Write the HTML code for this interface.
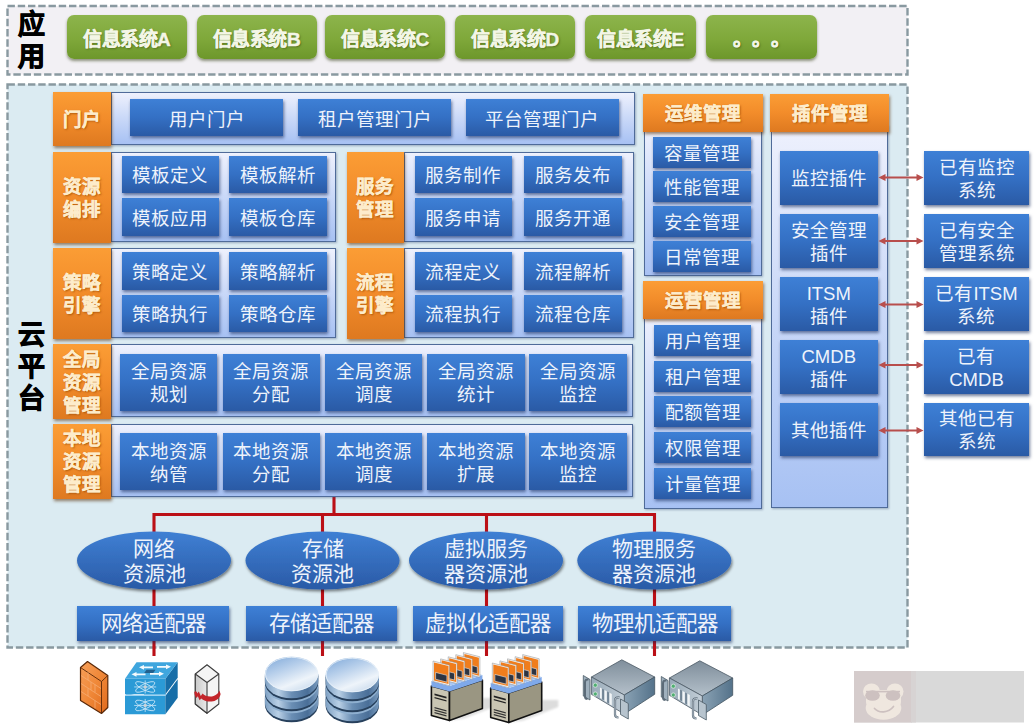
<!DOCTYPE html>
<html lang="zh-CN"><head><meta charset="utf-8"><title>云平台架构</title>
<style>
html,body{margin:0;padding:0;background:#fff;}
body{width:1034px;height:728px;position:relative;overflow:hidden;font-family:"Liberation Sans",sans-serif;}
.b{position:absolute;display:flex;align-items:center;justify-content:center;text-align:center;box-sizing:border-box;}
.b span{display:block;white-space:nowrap;}
svg.bg{position:absolute;left:0;top:0;}
.g{border-radius:7px;background:linear-gradient(#8db44c 0%,#7fa83a 55%,#6d972b 100%);box-shadow:0 2px 3px rgba(60,70,30,.55);color:#f3f6e6;font-weight:bold;font-size:19px;text-shadow:1px 1px 2px rgba(60,80,20,.7);letter-spacing:-0.5px;-webkit-text-stroke:.45px #f3f6e6;}
.o{background:linear-gradient(#fb9d35 0%,#f28c2a 50%,#de7920 100%);box-shadow:1px 2px 3px rgba(90,50,10,.6);color:#fdeccb;font-weight:bold;font-size:18.5px;line-height:23px;text-shadow:1px 1px 2px rgba(150,70,0,.8);-webkit-text-stroke:.3px #fdeccb;padding-top:1px;}
.c{background:linear-gradient(#eef1fd 0%,#c9d8f8 50%,#a7c1f3 100%);border:1px solid #4f6b99;box-shadow:1px 1px 2px rgba(60,80,120,.4);}
.u{background:linear-gradient(#3e80d6 0%,#3470c4 50%,#2a5aa5 100%);box-shadow:1px 2px 3px rgba(20,40,90,.6);color:#eef3fb;font-size:18.5px;line-height:23px;padding-top:2px;}
.g i{display:inline-block;width:19px;font-style:normal;text-align:left;}
.t{color:#000;font-weight:bold;font-size:27px;line-height:32px;-webkit-text-stroke:.9px #000;}
.e{color:#eef3fb;font-size:21px;line-height:25px;}
.a{font-size:21.4px;}
</style></head><body>
<svg class="bg" width="1034" height="728" viewBox="0 0 1034 728"><defs><linearGradient id="eg" x1="0" y1="0" x2="0" y2="1"><stop offset="0" stop-color="#3f80d4"/><stop offset="1" stop-color="#2a5aa6"/></linearGradient><filter id="sh" x="-10%" y="-10%" width="120%" height="130%"><feGaussianBlur in="SourceAlpha" stdDeviation="1.5"/><feOffset dx="1" dy="2"/><feComponentTransfer><feFuncA type="linear" slope=".5"/></feComponentTransfer><feMerge><feMergeNode/><feMergeNode in="SourceGraphic"/></feMerge></filter></defs><rect x="7.5" y="6" width="900" height="68.5" fill="#f2f0f4" stroke="#8999a0" stroke-width="2.4" stroke-dasharray="7.4 2.85"/><rect x="7.5" y="84.5" width="900" height="563" fill="#dbebf2" stroke="#8999a0" stroke-width="2.4" stroke-dasharray="7.4 2.85"/><g stroke="#bb0f16" stroke-width="3.1" fill="none"><path d="M334 497V514.5"/><path d="M154 656V514.5H654.5V656"/><path d="M322.5 514.5V656"/><path d="M486.5 514.5V656"/></g><ellipse cx="154" cy="560.5" rx="77" ry="29" fill="url(#eg)" filter="url(#sh)"/><ellipse cx="322.5" cy="560.5" rx="77" ry="29" fill="url(#eg)" filter="url(#sh)"/><ellipse cx="486" cy="560.5" rx="77" ry="29" fill="url(#eg)" filter="url(#sh)"/><ellipse cx="654.3" cy="560.5" rx="77" ry="29" fill="url(#eg)" filter="url(#sh)"/></svg>
<div class="b t" style="left:14px;top:8px;width:34px;height:66px;"><span>应<br>用</span></div>
<div class="b t" style="left:14px;top:319px;width:34px;height:96px;"><span>云<br>平<br>台</span></div>
<div class="b g" style="left:66.7px;top:15px;width:120px;height:44px;"><span>信息系统A</span></div>
<div class="b g" style="left:196.5px;top:15px;width:120px;height:44px;"><span>信息系统B</span></div>
<div class="b g" style="left:325px;top:15px;width:120px;height:44px;"><span>信息系统C</span></div>
<div class="b g" style="left:455px;top:15px;width:120px;height:44px;"><span>信息系统D</span></div>
<div class="b g" style="left:585px;top:15px;width:111px;height:44px;"><span>信息系统E</span></div>
<div class="b g" style="left:705.5px;top:15px;width:111px;height:44px;"><span><i>。</i><i>。</i><i>。</i></span></div>
<div class="b c" style="left:111px;top:92px;width:524.3px;height:52.5px;"><span></span></div>
<div class="b o" style="left:53px;top:92px;width:58px;height:54px;"><span>门户</span></div>
<div class="b u" style="left:130px;top:99px;width:153px;height:37px;padding-top:3px;"><span>用户门户</span></div>
<div class="b u" style="left:298.3px;top:99px;width:153px;height:37px;padding-top:3px;"><span>租户管理门户</span></div>
<div class="b u" style="left:465.7px;top:99px;width:153.3px;height:37px;padding-top:3px;"><span>平台管理门户</span></div>
<div class="b c" style="left:111px;top:151.7px;width:225px;height:90px;"><span></span></div>
<div class="b o" style="left:53px;top:151.7px;width:58px;height:91px;"><span>资源<br>编排</span></div>
<div class="b u" style="left:121.7px;top:155.7px;width:97.5px;height:37.6px;padding-top:3px;"><span>模板定义</span></div>
<div class="b u" style="left:229px;top:155.7px;width:97.5px;height:37.6px;padding-top:3px;"><span>模板解析</span></div>
<div class="b u" style="left:121.7px;top:198.4px;width:97.5px;height:37.6px;padding-top:3px;"><span>模板应用</span></div>
<div class="b u" style="left:229px;top:198.4px;width:97.5px;height:37.6px;padding-top:3px;"><span>模板仓库</span></div>
<div class="b c" style="left:404px;top:151.7px;width:229.5px;height:90px;"><span></span></div>
<div class="b o" style="left:346.7px;top:151.7px;width:57.6px;height:91px;"><span>服务<br>管理</span></div>
<div class="b u" style="left:414.5px;top:155.7px;width:97.7px;height:37.6px;padding-top:3px;"><span>服务制作</span></div>
<div class="b u" style="left:524px;top:155.7px;width:97.7px;height:37.6px;padding-top:3px;"><span>服务发布</span></div>
<div class="b u" style="left:414.5px;top:198.4px;width:97.7px;height:37.6px;padding-top:3px;"><span>服务申请</span></div>
<div class="b u" style="left:524px;top:198.4px;width:97.7px;height:37.6px;padding-top:3px;"><span>服务开通</span></div>
<div class="b c" style="left:111px;top:248px;width:225px;height:90px;"><span></span></div>
<div class="b o" style="left:53px;top:248px;width:58px;height:91px;"><span>策略<br>引擎</span></div>
<div class="b u" style="left:121.7px;top:252px;width:97.5px;height:37.6px;padding-top:3px;"><span>策略定义</span></div>
<div class="b u" style="left:229px;top:252px;width:97.5px;height:37.6px;padding-top:3px;"><span>策略解析</span></div>
<div class="b u" style="left:121.7px;top:294.7px;width:97.5px;height:37.6px;padding-top:3px;"><span>策略执行</span></div>
<div class="b u" style="left:229px;top:294.7px;width:97.5px;height:37.6px;padding-top:3px;"><span>策略仓库</span></div>
<div class="b c" style="left:404px;top:248px;width:229.5px;height:90px;"><span></span></div>
<div class="b o" style="left:346.7px;top:248px;width:57.6px;height:91px;"><span>流程<br>引擎</span></div>
<div class="b u" style="left:414.5px;top:252px;width:97.7px;height:37.6px;padding-top:3px;"><span>流程定义</span></div>
<div class="b u" style="left:524px;top:252px;width:97.7px;height:37.6px;padding-top:3px;"><span>流程解析</span></div>
<div class="b u" style="left:414.5px;top:294.7px;width:97.7px;height:37.6px;padding-top:3px;"><span>流程执行</span></div>
<div class="b u" style="left:524px;top:294.7px;width:97.7px;height:37.6px;padding-top:3px;"><span>流程仓库</span></div>
<div class="b c" style="left:111px;top:344px;width:521.5px;height:73px;"><span></span></div>
<div class="b o" style="left:53px;top:344px;width:58px;height:75px;"><span>全局<br>资源<br>管理</span></div>
<div class="b u" style="left:120px;top:353.7px;width:97.3px;height:57px;"><span>全局资源<br>规划</span></div>
<div class="b u" style="left:222.5px;top:353.7px;width:97.3px;height:57px;"><span>全局资源<br>分配</span></div>
<div class="b u" style="left:325px;top:353.7px;width:97.3px;height:57px;"><span>全局资源<br>调度</span></div>
<div class="b u" style="left:427.3px;top:353.7px;width:97.3px;height:57px;"><span>全局资源<br>统计</span></div>
<div class="b u" style="left:529.3px;top:353.7px;width:97.3px;height:57px;"><span>全局资源<br>监控</span></div>
<div class="b c" style="left:111px;top:423.5px;width:521.5px;height:73px;"><span></span></div>
<div class="b o" style="left:53px;top:423.5px;width:58px;height:75px;"><span>本地<br>资源<br>管理</span></div>
<div class="b u" style="left:120px;top:433.2px;width:97.3px;height:57px;"><span>本地资源<br>纳管</span></div>
<div class="b u" style="left:222.5px;top:433.2px;width:97.3px;height:57px;"><span>本地资源<br>分配</span></div>
<div class="b u" style="left:325px;top:433.2px;width:97.3px;height:57px;"><span>本地资源<br>调度</span></div>
<div class="b u" style="left:427.3px;top:433.2px;width:97.3px;height:57px;"><span>本地资源<br>扩展</span></div>
<div class="b u" style="left:529.3px;top:433.2px;width:97.3px;height:57px;"><span>本地资源<br>监控</span></div>
<div class="b c" style="left:644px;top:125px;width:118px;height:150.5px;"><span></span></div>
<div class="b o" style="left:642.7px;top:94px;width:120px;height:38px;"><span>运维管理</span></div>
<div class="b u" style="left:653.3px;top:136.5px;width:97.3px;height:31px;"><span>容量管理</span></div>
<div class="b u" style="left:653.3px;top:171.4px;width:97.3px;height:31px;"><span>性能管理</span></div>
<div class="b u" style="left:653.3px;top:206.3px;width:97.3px;height:31px;"><span>安全管理</span></div>
<div class="b u" style="left:653.3px;top:241.2px;width:97.3px;height:31px;"><span>日常管理</span></div>
<div class="b c" style="left:644px;top:312px;width:118px;height:196.5px;"><span></span></div>
<div class="b o" style="left:642.7px;top:281.3px;width:120px;height:38px;"><span>运营管理</span></div>
<div class="b u" style="left:654px;top:325px;width:97.3px;height:31px;"><span>用户管理</span></div>
<div class="b u" style="left:654px;top:360.7px;width:97.3px;height:31px;"><span>租户管理</span></div>
<div class="b u" style="left:654px;top:396.4px;width:97.3px;height:31px;"><span>配额管理</span></div>
<div class="b u" style="left:654px;top:432.1px;width:97.3px;height:31px;"><span>权限管理</span></div>
<div class="b u" style="left:654px;top:467.8px;width:97.3px;height:31px;"><span>计量管理</span></div>
<div class="b c" style="left:770.7px;top:125px;width:117.5px;height:383px;"><span></span></div>
<div class="b o" style="left:770px;top:94px;width:119px;height:37.5px;"><span>插件管理</span></div>
<div class="b u" style="left:780px;top:151px;width:97.5px;height:53.5px;"><span>监控插件</span></div>
<div class="b u" style="left:924px;top:151px;width:105px;height:53.5px;"><span>已有监控<br>系统</span></div>
<div class="b u" style="left:780px;top:214.3px;width:97.5px;height:53.5px;"><span>安全管理<br>插件</span></div>
<div class="b u" style="left:924px;top:214.3px;width:105px;height:53.5px;"><span>已有安全<br>管理系统</span></div>
<div class="b u" style="left:780px;top:277.3px;width:97.5px;height:53.5px;"><span>ITSM<br>插件</span></div>
<div class="b u" style="left:924px;top:277.3px;width:105px;height:53.5px;"><span>已有ITSM<br>系统</span></div>
<div class="b u" style="left:780px;top:340.3px;width:97.5px;height:53.5px;"><span>CMDB<br>插件</span></div>
<div class="b u" style="left:924px;top:340.3px;width:105px;height:53.5px;"><span>已有<br>CMDB</span></div>
<div class="b u" style="left:780px;top:402.5px;width:97.5px;height:53.5px;"><span>其他插件</span></div>
<div class="b u" style="left:924px;top:402.5px;width:105px;height:53.5px;"><span>其他已有<br>系统</span></div>
<div class="b e" style="left:77px;top:531.5px;width:154px;height:58px;"><span>网络<br>资源池</span></div>
<div class="b e" style="left:245.5px;top:531.5px;width:154px;height:58px;"><span>存储<br>资源池</span></div>
<div class="b e" style="left:409px;top:531.5px;width:154px;height:58px;"><span>虚拟服务<br>器资源池</span></div>
<div class="b e" style="left:577.3px;top:531.5px;width:154px;height:58px;"><span>物理服务<br>器资源池</span></div>
<div class="b u a" style="left:77.3px;top:605.7px;width:151.6px;height:35.6px;"><span>网络适配器</span></div>
<div class="b u a" style="left:246px;top:605.7px;width:151px;height:35.6px;"><span>存储适配器</span></div>
<div class="b u a" style="left:412.7px;top:605.7px;width:150.8px;height:35.6px;"><span>虚拟化适配器</span></div>
<div class="b u a" style="left:578.3px;top:605.7px;width:152.6px;height:35.6px;"><span>物理机适配器</span></div>
<svg class="bg" width="1034" height="728" viewBox="0 0 1034 728"><defs><linearGradient id="fw" x1="0" y1="0" x2="1" y2="1"><stop offset="0" stop-color="#f7a05a"/><stop offset=".5" stop-color="#f08838"/><stop offset="1" stop-color="#e06a1c"/></linearGradient><linearGradient id="dk" x1="0" y1="0" x2="1" y2="0"><stop offset="0" stop-color="#7d9fc2"/><stop offset=".25" stop-color="#b9d0e6"/><stop offset=".5" stop-color="#6a8eb4"/><stop offset=".8" stop-color="#4a6f98"/><stop offset="1" stop-color="#7b9cbf"/></linearGradient><linearGradient id="dt" x1="0" y1="0" x2=".6" y2="1"><stop offset="0" stop-color="#7da7d8"/><stop offset=".4" stop-color="#b4cdea"/><stop offset=".8" stop-color="#eef4fa"/><stop offset="1" stop-color="#d3e1f0"/></linearGradient><linearGradient id="rt" x1="0" y1="0" x2="0" y2="1"><stop offset="0" stop-color="#7f8e9b"/><stop offset="1" stop-color="#b4c0ca"/></linearGradient><linearGradient id="rs" x1="0" y1="0" x2="1" y2="0"><stop offset="0" stop-color="#8aa2b4"/><stop offset="1" stop-color="#54728a"/></linearGradient><linearGradient id="rf" x1="0" y1="0" x2="1" y2="0"><stop offset="0" stop-color="#97a9b7"/><stop offset="1" stop-color="#c3ced7"/></linearGradient><linearGradient id="sv" x1="0" y1="0" x2="1" y2="0"><stop offset="0" stop-color="#c9c9c9"/><stop offset="1" stop-color="#e9e9e9"/></linearGradient><filter id="bl" x="-20%" y="-20%" width="140%" height="140%"><feGaussianBlur stdDeviation="1.2"/></filter></defs><path d="M883 177.5H919" stroke="#b84e4c" stroke-width="2" fill="none"/><path d="M878.500 177.5l7 -3.500v7z M923.500 177.5l-7 -3.500v7z" fill="#b84e4c"/><path d="M883 241H919" stroke="#b84e4c" stroke-width="2" fill="none"/><path d="M878.500 241l7 -3.500v7z M923.500 241l-7 -3.500v7z" fill="#b84e4c"/><path d="M883 304.5H919" stroke="#b84e4c" stroke-width="2" fill="none"/><path d="M878.500 304.5l7 -3.500v7z M923.500 304.5l-7 -3.500v7z" fill="#b84e4c"/><path d="M883 365H919" stroke="#b84e4c" stroke-width="2" fill="none"/><path d="M878.500 365l7 -3.500v7z M923.500 365l-7 -3.500v7z" fill="#b84e4c"/><path d="M883 430.5H919" stroke="#b84e4c" stroke-width="2" fill="none"/><path d="M878.500 430.5l7 -3.500v7z M923.500 430.5l-7 -3.500v7z" fill="#b84e4c"/><g stroke="#5a2808" stroke-width="1.2" stroke-linejoin="round"><path d="M80.5 667.5L87.5 661.5L107.8 675.5V707.5L101.5 713.5L80.5 700.5Z" fill="url(#fw)"/><path d="M101.5 681.5L107.8 675.5M101.5 681.5V713.5M80.5 667.5L101.5 681.5" fill="none" stroke-width=".9"/></g><g stroke="#f6b078" stroke-width=".8" fill="none" opacity=".9"><path d="M81 675.5L101 688.5M81 683.5L101 696.5M81 691.5L101 704.5"/><path d="M88 672.3V680M95 684.5V692.3M88 688.3V696M95 700.5V708.3M91 682V689.8"/></g><path d="M125 695.7H165.400V714.2H125Z" fill="#2b9ad6"/><path d="M165.400 695.7L177.700 679.2V697.7L165.400 714.2Z" fill="#176ea8"/><path d="M125 695.7L126.500 693.7H166.800L165.400 695.7Z" fill="#8fcbee"/><path d="M131 695.1l4 -1.400h9v1.400z" fill="#fff"/><g stroke="#d4ecfa" stroke-width=".8" fill="none" opacity=".95"><ellipse cx="145.2" cy="705.45" rx="10.500" ry="3.200" transform="rotate(25 145.2 705.45)"/><ellipse cx="145.2" cy="705.45" rx="10.500" ry="3.200" transform="rotate(-25 145.2 705.45)"/><path d="M145.2 698.95V711.95M134.2 705.45H156.2"/></g><circle cx="145.2" cy="705.45" r="1.800" fill="#c9d3da"/><path d="M125 678.7H165.400V694.2H125Z" fill="#2b9ad6"/><path d="M165.400 678.7L177.700 662.2V677.7L165.400 694.2Z" fill="#176ea8"/><path d="M125 678.7L136.500 662.2H177.700L165.400 678.7Z" fill="#3fa6de"/><g fill="#fff" opacity=".95"><path d="M139 667.2l5 -2.300v1.500h9v1.800h-9v1.500z"/><path d="M171 666.7l-5 -2.300v1.500h-9v1.800h9v1.500z"/><path d="M131.500 674.2l5 -2.300v1.500h9v1.800h-9v1.500z"/><path d="M164 673.7l-5 -2.300v1.500h-9v1.800h9v1.500z"/></g><path d="M146.500 669.7h9l-2.300 3.300h-9z" fill="#1c4f78" opacity=".8"/><g stroke="#d4ecfa" stroke-width=".8" fill="none" opacity=".95"><ellipse cx="145.2" cy="686.95" rx="10.500" ry="3.200" transform="rotate(25 145.2 686.95)"/><ellipse cx="145.2" cy="686.95" rx="10.500" ry="3.200" transform="rotate(-25 145.2 686.95)"/><path d="M145.2 680.45V693.45M134.2 686.95H156.2"/></g><circle cx="145.2" cy="686.95" r="1.800" fill="#c9d3da"/><g stroke="#3c3c3c" stroke-width="1.1" stroke-linejoin="round"><path d="M195.3 674L207 664.8L218.8 674V704L207 713.2L195.3 704Z" fill="#f4f4f4"/><path d="M195.3 674L207 682.5V713.2L195.3 704Z" fill="url(#sv)"/><path d="M207 682.5L218.8 674" fill="none"/></g><path transform="translate(.5 3.500)" d="M193.8 688.5c1.5 -1.5 2.5 -.5 3 1.5l1.5 -2l2 4.5l1.8 -2.5c2 2.5 7 4 11 2.5c3 -1 5 -3 5.8 -5.500l1.200 3.500c-.5 3.500 -3.500 6.500 -7.500 7.300c-4.500 1 -9.500 -.5 -11.800 -2.800l-1.700 1.800l-1.800 -4l-1.500 1.700c-1 -1.500 -2 -3.500 -2 -6z" fill="#c3252b"/><path d="M264.90000000000003 697.5v7.500a26.7 17.3 0 0 0 53.4 0v-7.500z" fill="#27405c"/><path d="M264.90000000000003 696.0v7a26.7 17.3 0 0 0 53.4 0v-7z" fill="url(#dk)"/><ellipse cx="291.6" cy="696.0" rx="26.7" ry="17.3" fill="#8fb0d0"/><path d="M264.90000000000003 686.5v7.500a26.7 17.3 0 0 0 53.4 0v-7.500z" fill="#27405c"/><path d="M264.90000000000003 685.0v7a26.7 17.3 0 0 0 53.4 0v-7z" fill="url(#dk)"/><ellipse cx="291.6" cy="685.0" rx="26.7" ry="17.3" fill="#8fb0d0"/><path d="M264.90000000000003 675.5v7.500a26.7 17.3 0 0 0 53.4 0v-7.500z" fill="#27405c"/><path d="M264.90000000000003 674.0v7a26.7 17.3 0 0 0 53.4 0v-7z" fill="url(#dk)"/><ellipse cx="291.6" cy="674.0" rx="26.7" ry="17.3" fill="url(#dt)"/><ellipse cx="291.6" cy="674.0" rx="26.099999999999998" ry="16.7" fill="none" stroke="#e9f1f9" stroke-width="1" opacity=".8"/><path d="M325.6 698.5v7.500a26.7 17.3 0 0 0 53.4 0v-7.500z" fill="#27405c"/><path d="M325.6 697.0v7a26.7 17.3 0 0 0 53.4 0v-7z" fill="url(#dk)"/><ellipse cx="352.3" cy="697.0" rx="26.7" ry="17.3" fill="#8fb0d0"/><path d="M325.6 687.5v7.500a26.7 17.3 0 0 0 53.4 0v-7.500z" fill="#27405c"/><path d="M325.6 686.0v7a26.7 17.3 0 0 0 53.4 0v-7z" fill="url(#dk)"/><ellipse cx="352.3" cy="686.0" rx="26.7" ry="17.3" fill="#8fb0d0"/><path d="M325.6 676.5v7.500a26.7 17.3 0 0 0 53.4 0v-7.500z" fill="#27405c"/><path d="M325.6 675.0v7a26.7 17.3 0 0 0 53.4 0v-7z" fill="url(#dk)"/><ellipse cx="352.3" cy="675.0" rx="26.7" ry="17.3" fill="url(#dt)"/><ellipse cx="352.3" cy="675.0" rx="26.099999999999998" ry="16.7" fill="none" stroke="#e9f1f9" stroke-width="1" opacity=".8"/><g transform="translate(0 0)"><path d="M482.400 698H499V705L464 718.500L449.500 720.500L482.400 708.500Z" fill="#dcdcdc" filter="url(#bl)"/><path d="M431.4 686L449.5 691V720.500L431.400 715.500Z" fill="#c9c5b2" stroke="#111" stroke-width="1.600" stroke-linejoin="round"/><path d="M449.500 691L482.400 680V708.500L449.500 720.500Z" fill="#9a9682" stroke="#111" stroke-width="1.600" stroke-linejoin="round"/><path d="M434.5 693.500l12 3.300v1.800l-12 -3.300zM434.500 697l12 3.300v1.300l-12 -3.300z" fill="#222"/><path d="M434.500 707l12 3.300v1.200l-12 -3.300zM434.500 709.500l12 3.300v1.200l-12 -3.300zM434.500 712l12 3.300v1.200l-12 -3.300z" fill="#333"/><path d="M431.400 681L449.500 686L482.400 675V680.500L449.500 691.500L431.400 686.500Z" fill="#7fa9ea"/><path d="M431.400 681L464 670.500L482.400 675L449.500 686Z" fill="#a9c7f3"/><path d="M463.4 652.6l16.500 4.200v20.500l-16.500 -4.200z" fill="#f4f4f4" stroke="#8a8a8a" stroke-width=".5"/><path d="M464.4 654.0l14.500 3.700v18l-14.500 -3.700z" fill="#f07d1c"/><path d="M466.0 664.0l11.300 2.900v6.800l-11.300 -2.900z" fill="#2d3442" stroke="#e8e8e8" stroke-width=".6"/><path d="M455.8 654.7l16.500 4.200v20.500l-16.500 -4.200z" fill="#f4f4f4" stroke="#8a8a8a" stroke-width=".5"/><path d="M456.8 656.1l14.500 3.700v18l-14.500 -3.700z" fill="#f07d1c"/><path d="M458.40000000000003 666.1l11.300 2.900v6.800l-11.300 -2.900z" fill="#2d3442" stroke="#e8e8e8" stroke-width=".6"/><path d="M448.2 656.8l16.500 4.200v20.500l-16.500 -4.200z" fill="#f4f4f4" stroke="#8a8a8a" stroke-width=".5"/><path d="M449.2 658.1999999999999l14.500 3.700v18l-14.500 -3.700z" fill="#f07d1c"/><path d="M450.8 668.1999999999999l11.300 2.900v6.800l-11.300 -2.900z" fill="#2d3442" stroke="#e8e8e8" stroke-width=".6"/><path d="M440.6 658.9l16.500 4.200v20.500l-16.500 -4.200z" fill="#f4f4f4" stroke="#8a8a8a" stroke-width=".5"/><path d="M441.6 660.3l14.500 3.700v18l-14.500 -3.700z" fill="#f07d1c"/><path d="M443.20000000000005 670.3l11.300 2.900v6.800l-11.300 -2.900z" fill="#2d3442" stroke="#e8e8e8" stroke-width=".6"/><path d="M433.0 661.0l16.500 4.200v20.500l-16.500 -4.200z" fill="#f4f4f4" stroke="#8a8a8a" stroke-width=".5"/><path d="M434.0 662.4l14.500 3.700v18l-14.500 -3.700z" fill="#f07d1c"/><path d="M435.6 672.4l11.300 2.900v6.800l-11.300 -2.900z" fill="#2d3442" stroke="#e8e8e8" stroke-width=".6"/></g><g transform="translate(59.3 2)"><path d="M482.400 698H499V705L464 718.500L449.500 720.500L482.400 708.500Z" fill="#dcdcdc" filter="url(#bl)"/><path d="M431.4 686L449.5 691V720.500L431.400 715.500Z" fill="#c9c5b2" stroke="#111" stroke-width="1.600" stroke-linejoin="round"/><path d="M449.500 691L482.400 680V708.500L449.500 720.500Z" fill="#9a9682" stroke="#111" stroke-width="1.600" stroke-linejoin="round"/><path d="M434.5 693.500l12 3.300v1.800l-12 -3.300zM434.500 697l12 3.300v1.300l-12 -3.300z" fill="#222"/><path d="M434.500 707l12 3.300v1.200l-12 -3.300zM434.500 709.500l12 3.300v1.200l-12 -3.300zM434.500 712l12 3.300v1.200l-12 -3.300z" fill="#333"/><path d="M431.400 681L449.500 686L482.400 675V680.500L449.500 691.500L431.400 686.500Z" fill="#7fa9ea"/><path d="M431.400 681L464 670.500L482.400 675L449.500 686Z" fill="#a9c7f3"/><path d="M463.4 652.6l16.500 4.200v20.500l-16.500 -4.200z" fill="#f4f4f4" stroke="#8a8a8a" stroke-width=".5"/><path d="M464.4 654.0l14.500 3.700v18l-14.500 -3.700z" fill="#f07d1c"/><path d="M466.0 664.0l11.300 2.900v6.800l-11.300 -2.900z" fill="#2d3442" stroke="#e8e8e8" stroke-width=".6"/><path d="M455.8 654.7l16.500 4.200v20.500l-16.500 -4.200z" fill="#f4f4f4" stroke="#8a8a8a" stroke-width=".5"/><path d="M456.8 656.1l14.500 3.700v18l-14.500 -3.700z" fill="#f07d1c"/><path d="M458.40000000000003 666.1l11.300 2.900v6.800l-11.300 -2.900z" fill="#2d3442" stroke="#e8e8e8" stroke-width=".6"/><path d="M448.2 656.8l16.500 4.200v20.500l-16.500 -4.200z" fill="#f4f4f4" stroke="#8a8a8a" stroke-width=".5"/><path d="M449.2 658.1999999999999l14.500 3.700v18l-14.500 -3.700z" fill="#f07d1c"/><path d="M450.8 668.1999999999999l11.300 2.900v6.800l-11.300 -2.900z" fill="#2d3442" stroke="#e8e8e8" stroke-width=".6"/><path d="M440.6 658.9l16.500 4.200v20.500l-16.500 -4.200z" fill="#f4f4f4" stroke="#8a8a8a" stroke-width=".5"/><path d="M441.6 660.3l14.500 3.700v18l-14.500 -3.700z" fill="#f07d1c"/><path d="M443.20000000000005 670.3l11.300 2.900v6.800l-11.300 -2.900z" fill="#2d3442" stroke="#e8e8e8" stroke-width=".6"/><path d="M433.0 661.0l16.500 4.200v20.500l-16.500 -4.200z" fill="#f4f4f4" stroke="#8a8a8a" stroke-width=".5"/><path d="M434.0 662.4l14.500 3.700v18l-14.500 -3.700z" fill="#f07d1c"/><path d="M435.6 672.4l11.300 2.900v6.800l-11.300 -2.900z" fill="#2d3442" stroke="#e8e8e8" stroke-width=".6"/></g><g transform="translate(0 0)" stroke-linejoin="round"><path d="M583.300 675.500L590 679.500V700L583.300 696Z" fill="#9fb0bd" stroke="#4a5a66" stroke-width=".8"/><path d="M591.400 677L621.800 659.800L654.700 677L624.300 695Z" fill="url(#rt)" stroke="#4b5964" stroke-width=".8"/><path d="M624.300 695L654.700 677V694.300L624.300 714Z" fill="url(#rs)" stroke="#41535f" stroke-width=".8"/><path d="M591.400 677L624.300 695V714L591.400 694.300Z" fill="url(#rf)" stroke="#4b5964" stroke-width=".8"/><circle cx="595.300" cy="685.200" r="2.100" fill="#4fae72" stroke="#e8f0e8" stroke-width=".7"/><circle cx="595.300" cy="694" r="2.100" fill="#4fae72" stroke="#e8f0e8" stroke-width=".7"/><path d="M600 687.500l1.800 1v10.500l-1.800 -1zM604.500 690l2.300 1.300v11l-2.300 -1.300zM609.500 692.800l2.300 1.300v11.500l-2.300 -1.300z" fill="#f2f5f7"/><path d="M602.300 688.800l1.500 .8v10.500l-1.500 -.8zM607.300 691.600l1.500 .8v11l-1.500 -.8z" fill="#64788a"/><path d="M588.500 679.500c-2.500 -.5 -3.500 1 -3.500 3v14c0 1.500 1 2.500 2.500 2.500" fill="none" stroke="#5c6b78" stroke-width="2"/><path d="M619.500 697.500c-3 -.8 -4.500 1 -4.500 3v14c0 2 1.500 3 3.500 3" fill="none" stroke="#5c6b78" stroke-width="2.200"/><path d="M619.500 697.500c-3 -.8 -4.500 1 -4.500 3v14c0 2 1.500 3 3.500 3" fill="none" stroke="#c4cfd8" stroke-width=".9"/><path d="M620.500 699L628.300 703.500V719L620.500 714.500Z" fill="#b7c4ce" stroke="#4a5a66" stroke-width=".8"/></g><g transform="translate(78 1)" stroke-linejoin="round"><path d="M583.300 675.500L590 679.500V700L583.300 696Z" fill="#9fb0bd" stroke="#4a5a66" stroke-width=".8"/><path d="M591.400 677L621.800 659.800L654.700 677L624.300 695Z" fill="url(#rt)" stroke="#4b5964" stroke-width=".8"/><path d="M624.300 695L654.700 677V694.300L624.300 714Z" fill="url(#rs)" stroke="#41535f" stroke-width=".8"/><path d="M591.400 677L624.300 695V714L591.400 694.300Z" fill="url(#rf)" stroke="#4b5964" stroke-width=".8"/><circle cx="595.300" cy="685.200" r="2.100" fill="#4fae72" stroke="#e8f0e8" stroke-width=".7"/><circle cx="595.300" cy="694" r="2.100" fill="#4fae72" stroke="#e8f0e8" stroke-width=".7"/><path d="M600 687.500l1.800 1v10.500l-1.800 -1zM604.500 690l2.300 1.300v11l-2.300 -1.300zM609.500 692.800l2.300 1.300v11.500l-2.300 -1.300z" fill="#f2f5f7"/><path d="M602.300 688.800l1.500 .8v10.500l-1.500 -.8zM607.300 691.600l1.500 .8v11l-1.500 -.8z" fill="#64788a"/><path d="M588.500 679.500c-2.500 -.5 -3.500 1 -3.500 3v14c0 1.500 1 2.500 2.500 2.500" fill="none" stroke="#5c6b78" stroke-width="2"/><path d="M619.500 697.500c-3 -.8 -4.500 1 -4.500 3v14c0 2 1.500 3 3.500 3" fill="none" stroke="#5c6b78" stroke-width="2.200"/><path d="M619.500 697.500c-3 -.8 -4.500 1 -4.500 3v14c0 2 1.500 3 3.500 3" fill="none" stroke="#c4cfd8" stroke-width=".9"/><path d="M620.500 699L628.300 703.500V719L620.500 714.500Z" fill="#b7c4ce" stroke="#4a5a66" stroke-width=".8"/></g><rect x="854" y="671" width="170" height="51.500" fill="#d9d9d9"/><rect x="854" y="671" width="58" height="51.500" fill="#d5cccc"/><rect x="911" y="671" width="5" height="51.500" fill="#d7d3d3"/><g fill="#efe7df"><ellipse cx="883.500" cy="708" rx="17.800" ry="11.800"/><ellipse cx="871.500" cy="691.500" rx="8.500" ry="8"/><ellipse cx="895" cy="691.500" rx="8.500" ry="8"/><rect x="866" y="690" width="35" height="16" rx="4"/></g><g fill="#cdc1c0"><ellipse cx="872.500" cy="695.500" rx="7.300" ry="5.300"/><ellipse cx="893" cy="695.500" rx="7.300" ry="5.300"/><rect x="866" y="690.800" width="34" height="1.600"/></g><path d="M874.500 708.500c4.500 5 14 4.500 19 -2" fill="none" stroke="#cdc1c0" stroke-width="1.700" stroke-linecap="round"/></svg>
</body></html>
